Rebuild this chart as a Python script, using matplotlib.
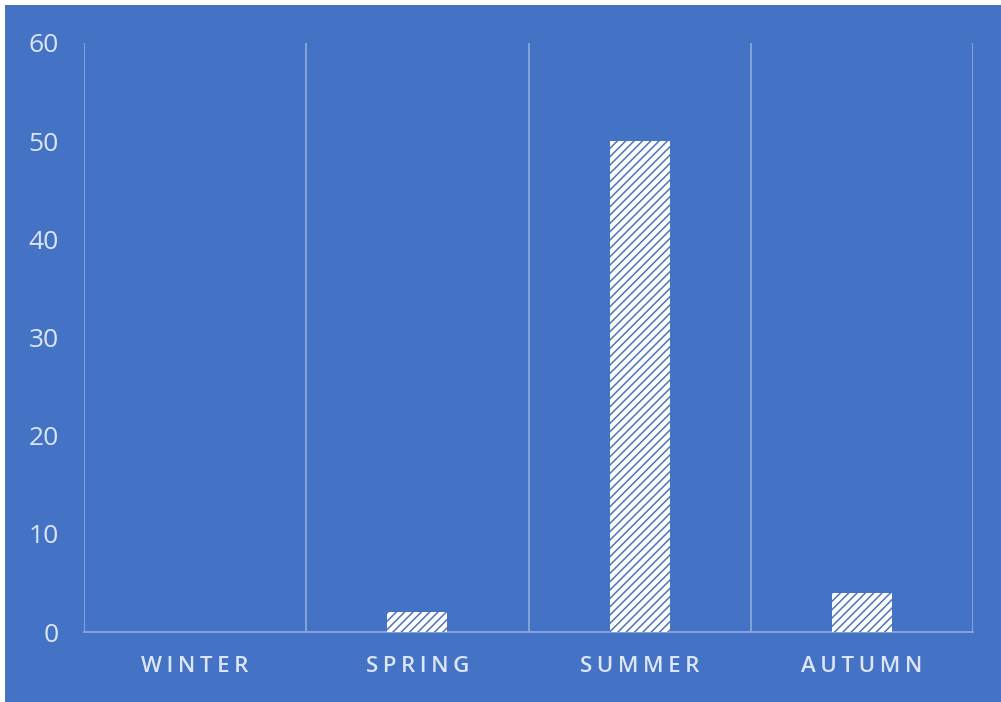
import matplotlib.pyplot as plt
from matplotlib.patches import Rectangle

seasons = ['WINTER', 'SPRING', 'SUMMER', 'AUTUMN']
counts = [0, 2, 50, 4]
y_ticks = [0, 10, 20, 30, 40, 50, 60]

BLUE = '#4472C4'
GRID = '#8AA8DE'
TEXT = '#DCE6F7'


def spaced(label):
    # wide tracking on the category names
    return '\u2009'.join(label)


plt.rcParams['font.family'] = ['Open Sans', 'DejaVu Sans']
plt.rcParams['hatch.linewidth'] = 1.1

fig = plt.figure(figsize=(10.01, 7.02), dpi=100, facecolor='white')
fig.patches.append(Rectangle((5 / 1001, 0), 1, 697 / 702, transform=fig.transFigure,
                             facecolor=BLUE, edgecolor='none', zorder=-10))

ax = fig.add_axes([84 / 1001, 70 / 702, 889 / 1001, 589 / 702])
ax.set_facecolor(BLUE)
ax.patch.set_alpha(0)

x = range(len(seasons))
ax.bar(x, counts, width=0.27, color='white', edgecolor='#4F74BA',
       linewidth=0, hatch='////', zorder=3)

ax.set_xlim(-0.5, len(seasons) - 0.5)
ax.set_ylim(0, 60)
ax.set_yticks(y_ticks)
ax.set_xticks(list(x))
ax.set_xticklabels([spaced(s) for s in seasons], fontweight='semibold')

# vertical gridlines between categories
ax.set_xticks([i - 0.5 for i in range(len(seasons) + 1)], minor=True)
ax.grid(True, which='minor', axis='x', color=GRID, linewidth=1.3, zorder=1)
ax.grid(False, which='major')

for side in ['top', 'right', 'left']:
    ax.spines[side].set_visible(False)
ax.spines['bottom'].set_color(GRID)
ax.spines['bottom'].set_linewidth(1.3)

ax.tick_params(axis='both', which='both', length=0)
ax.tick_params(axis='y', labelsize=19, labelcolor=TEXT, pad=18)
ax.tick_params(axis='x', labelsize=16, labelcolor=TEXT, pad=17)

fig.savefig('out.png', dpi=100, facecolor=fig.get_facecolor())
